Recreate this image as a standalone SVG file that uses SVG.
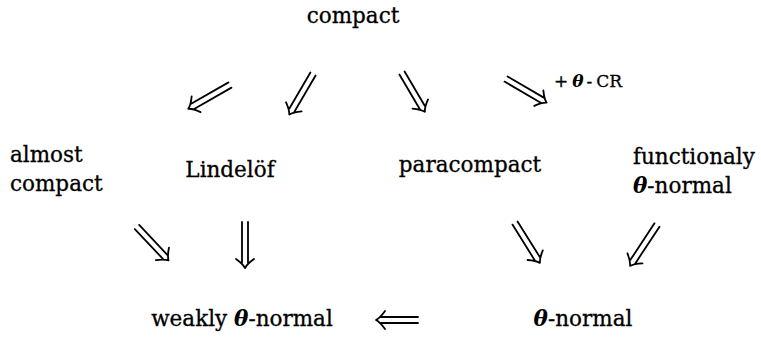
<svg xmlns="http://www.w3.org/2000/svg" width="761" height="337" viewBox="0 0 761 337">
<style>
text{font-family:"DejaVu Serif","Liberation Serif",serif;font-size:21.5px;fill:#000;stroke:#000;stroke-width:0.3}
.th{font-style:italic;font-weight:bold;stroke-width:0}
.sm{font-size:17px}
.arr path{fill:none;stroke:#000;stroke-width:1.8;stroke-linecap:round;stroke-linejoin:round}
</style>
<rect width="761" height="337" fill="#fff"/>
<g id="n-compact"><text x="353" y="23" text-anchor="middle">compact</text></g>
<g id="n-almost"><text x="10" y="162">almost</text><text x="10" y="191">compact</text></g>
<g id="n-lindelof"><text x="230" y="177" text-anchor="middle">Lindelöf</text></g>
<g id="n-paracompact"><text x="470" y="172" text-anchor="middle">paracompact</text></g>
<g id="n-functionaly"><text x="633" y="164">functionaly</text><text x="633" y="193"><tspan class="th">θ</tspan>-normal</text></g>
<g id="n-weakly"><text x="242" y="326" text-anchor="middle">weakly <tspan class="th">θ</tspan>-normal</text></g>
<g id="n-thetanormal"><text x="583" y="326" text-anchor="middle"><tspan class="th">θ</tspan>-normal</text></g>
<g id="connectors" class="arr">
<path transform="translate(230,85) rotate(150.3)" d="M0,-3 H43 M0,3 H43 M39,-9 Q44,-2 48,0 Q44,2 39,9"/>
<path transform="translate(313,74) rotate(120.3)" d="M0,-3 H42 M0,3 H42 M38,-9 Q43,-2 47,0 Q43,2 38,9"/>
<path transform="translate(402,73) rotate(59.5)" d="M0,-3 H40 M0,3 H40 M36,-9 Q41,-2 45,0 Q41,2 36,9"/>
<path transform="translate(506,79) rotate(30.3)" d="M0,-3 H42 M0,3 H42 M38,-9 Q43,-2 47,0 Q43,2 38,9"/>
<path transform="translate(137,227) rotate(46.7)" d="M0,-3 H41 M0,3 H41 M37,-9 Q42,-2 46,0 Q42,2 37,9"/>
<path transform="translate(245,222) rotate(90)" d="M0,-3 H41 M0,3 H41 M37,-9 Q42,-2 46,0 Q42,2 37,9"/>
<path transform="translate(515,223) rotate(58)" d="M0,-3 H42 M0,3 H42 M38,-9 Q43,-2 47,0 Q43,2 38,9"/>
<path transform="translate(657,225) rotate(123.4)" d="M0,-3 H44 M0,3 H44 M40,-9 Q45,-2 49,0 Q45,2 40,9"/>
<path transform="translate(418,320) rotate(180)" d="M0,-3 H37 M0,3 H37 M33,-9 Q38,-2 42,0 Q38,2 33,9"/>
<text class="sm" x="554" y="87">+<tspan class="th" dx="4">θ</tspan><tspan dx="3">-</tspan><tspan dx="4">CR</tspan></text>
</g>
</svg>
